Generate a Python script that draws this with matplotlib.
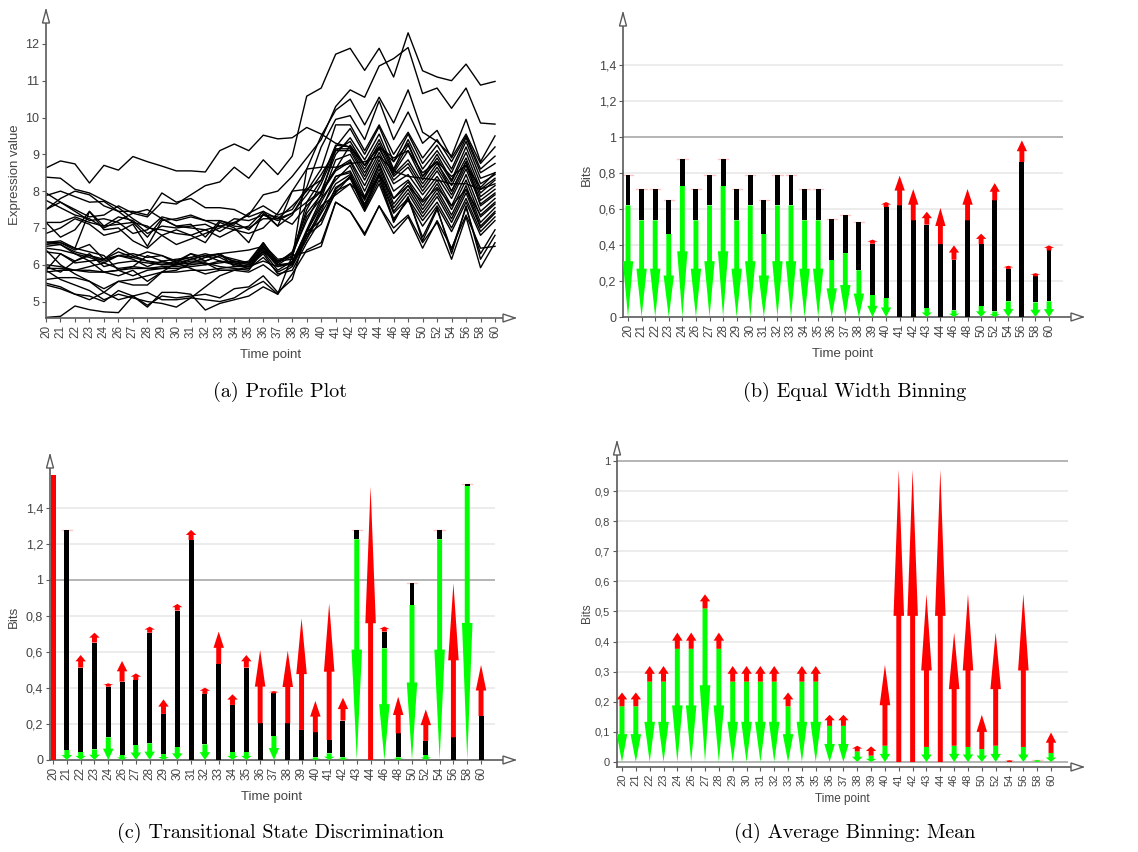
import numpy as np
import matplotlib.pyplot as plt
from matplotlib.patches import Polygon
from matplotlib.ticker import FuncFormatter

plt.rcParams['font.family'] = ['Liberation Sans', 'DejaVu Sans']

W, H = 1138, 852

times = [20, 21, 22, 23, 24, 26, 27, 28, 29, 30, 31, 32, 33, 34, 35, 36,
         37, 38, 39, 40, 41, 42, 43, 44, 46, 48, 50, 52, 54, 56, 58, 60]

# (a) expression profiles, one row per gene
profiles = [
    [8.63, 8.82, 8.74, 8.22, 8.70, 8.57, 8.94, 8.80, 8.68, 8.55, 8.55, 8.52, 9.10, 9.28, 9.10, 9.52, 9.42, 9.45, 9.73, 9.55, 9.30, 9.20, 8.70, 9.20, 8.90, 9.10, 8.50, 8.80, 8.40, 8.70, 8.10, 8.50],
    [7.50, 7.70, 7.50, 7.30, 7.35, 7.60, 7.40, 7.30, 7.70, 7.65, 7.90, 8.15, 8.25, 8.65, 8.35, 8.85, 8.45, 8.95, 10.58, 10.80, 11.72, 11.88, 11.28, 11.88, 11.10, 12.30, 11.27, 11.10, 11.00, 11.45, 10.88, 10.98],
    [8.38, 8.35, 8.05, 7.95, 7.75, 7.55, 7.25, 7.00, 6.95, 6.85, 6.80, 6.95, 7.05, 7.15, 7.35, 7.90, 8.00, 8.40, 8.90, 9.40, 10.30, 10.75, 10.55, 11.40, 11.60, 11.90, 10.65, 10.80, 10.25, 10.80, 9.85, 9.82],
    [7.95, 7.70, 7.45, 7.20, 7.25, 7.15, 6.85, 6.95, 7.30, 7.20, 7.30, 7.20, 7.05, 6.95, 6.85, 7.00, 7.40, 8.00, 8.60, 9.50, 10.20, 10.50, 9.80, 10.55, 9.85, 10.75, 9.60, 9.35, 8.95, 9.95, 8.80, 9.50],
    [7.88, 8.00, 7.85, 7.70, 7.72, 7.45, 7.15, 6.75, 7.25, 7.05, 7.10, 6.75, 7.20, 7.10, 7.40, 7.60, 7.35, 7.50, 8.10, 9.20, 9.95, 10.05, 9.40, 10.45, 9.40, 10.15, 9.30, 9.65, 8.90, 9.55, 8.75, 9.20],
    [7.75, 7.55, 7.35, 7.25, 7.00, 7.20, 7.40, 7.50, 7.25, 7.05, 7.00, 6.95, 6.75, 6.95, 7.05, 7.45, 7.25, 7.60, 8.00, 8.60, 9.80, 9.80, 9.10, 9.80, 9.00, 9.60, 8.90, 9.40, 8.80, 9.50, 8.60, 8.95],
    [7.15, 7.15, 7.30, 7.15, 7.05, 7.30, 7.20, 6.85, 7.05, 7.00, 7.05, 7.10, 6.90, 7.15, 6.95, 7.35, 7.20, 7.40, 7.70, 8.30, 9.20, 9.70, 9.00, 9.75, 8.80, 9.55, 8.75, 9.25, 8.60, 9.45, 8.50, 8.75],
    [7.15, 6.75, 6.95, 7.45, 7.05, 7.10, 7.15, 7.05, 6.80, 6.55, 6.70, 6.85, 7.00, 7.25, 7.20, 7.35, 7.30, 7.10, 7.60, 8.00, 9.00, 9.45, 8.85, 9.55, 8.60, 9.40, 8.60, 9.10, 8.50, 9.35, 8.35, 8.50],
    [6.85, 7.00, 7.25, 7.10, 6.80, 6.90, 7.10, 6.50, 7.20, 7.25, 7.35, 7.20, 7.20, 7.05, 7.00, 7.25, 7.25, 7.40, 7.90, 8.45, 9.10, 9.35, 8.70, 9.40, 8.55, 9.25, 8.40, 9.00, 8.30, 9.20, 8.20, 8.45],
    [6.62, 6.60, 6.45, 7.45, 6.95, 7.00, 6.65, 6.45, 6.80, 6.95, 6.80, 6.60, 7.15, 7.00, 6.60, 7.40, 7.05, 7.35, 8.05, 8.30, 9.25, 9.20, 8.60, 9.30, 8.50, 9.10, 8.30, 8.90, 8.25, 9.05, 8.05, 8.35],
    [6.60, 6.65, 6.45, 6.35, 6.25, 5.85, 5.70, 5.85, 5.90, 6.00, 6.15, 6.25, 6.30, 6.05, 6.05, 6.60, 6.05, 6.35, 7.40, 7.90, 9.15, 9.15, 8.50, 9.15, 8.45, 8.85, 8.20, 8.75, 8.15, 8.90, 7.95, 8.30],
    [6.55, 6.60, 6.40, 6.55, 6.15, 6.25, 6.30, 6.20, 6.25, 6.05, 6.30, 6.20, 6.30, 5.95, 6.00, 6.50, 6.10, 6.30, 7.50, 8.20, 9.10, 9.10, 8.40, 9.20, 8.40, 8.75, 8.10, 8.65, 8.00, 8.80, 7.85, 8.15],
    [6.50, 6.55, 6.35, 6.25, 6.15, 6.45, 6.25, 6.10, 6.05, 6.05, 6.15, 6.25, 6.10, 6.05, 5.95, 6.45, 6.00, 6.25, 7.30, 7.80, 8.85, 9.00, 8.30, 9.05, 8.30, 8.65, 8.00, 8.55, 7.90, 8.70, 7.75, 8.05],
    [6.45, 6.40, 6.30, 6.10, 6.15, 6.35, 6.20, 6.35, 6.25, 6.10, 6.30, 6.10, 6.25, 6.10, 6.00, 6.55, 6.15, 6.20, 7.70, 8.00, 8.60, 8.85, 8.15, 8.95, 8.20, 8.45, 7.90, 8.40, 7.80, 8.60, 7.65, 7.95],
    [6.35, 6.30, 6.10, 6.25, 6.10, 6.25, 6.15, 5.95, 6.10, 6.15, 6.20, 6.30, 6.20, 6.00, 6.10, 6.60, 6.05, 6.30, 7.20, 7.95, 8.55, 8.80, 8.00, 8.85, 8.00, 8.30, 7.75, 8.30, 7.60, 8.45, 7.45, 7.80],
    [6.00, 5.95, 5.85, 5.95, 6.05, 5.90, 5.95, 6.25, 6.10, 6.00, 6.05, 6.05, 5.95, 5.90, 5.85, 6.40, 5.95, 6.05, 6.95, 7.80, 8.30, 8.70, 7.85, 8.75, 7.80, 8.25, 7.60, 8.20, 7.50, 8.30, 7.30, 7.65],
    [5.95, 5.80, 6.10, 6.30, 5.95, 6.05, 6.10, 6.05, 6.00, 6.10, 6.20, 6.00, 6.10, 6.00, 5.95, 6.35, 5.85, 6.10, 6.90, 7.70, 8.40, 8.55, 7.80, 8.70, 7.65, 8.15, 7.50, 8.05, 7.35, 8.15, 7.15, 7.55],
    [5.90, 5.90, 5.85, 5.80, 5.80, 5.85, 5.95, 5.90, 5.95, 5.95, 6.00, 6.05, 5.85, 5.85, 5.90, 6.20, 5.80, 6.00, 6.70, 7.55, 8.20, 8.45, 7.75, 8.60, 7.55, 8.05, 7.40, 7.95, 7.25, 8.05, 7.05, 7.45],
    [5.85, 6.30, 6.05, 6.10, 5.80, 5.70, 5.85, 5.55, 5.80, 6.05, 5.90, 5.75, 5.85, 5.85, 5.80, 6.00, 5.70, 5.95, 6.70, 7.40, 8.05, 8.40, 7.65, 8.50, 7.45, 7.95, 7.30, 7.85, 7.15, 7.95, 7.00, 7.40],
    [5.60, 5.65, 5.65, 5.55, 5.35, 5.55, 5.60, 5.70, 5.80, 5.80, 5.85, 5.85, 5.90, 5.95, 5.95, 6.30, 5.75, 5.85, 6.60, 7.25, 7.95, 8.40, 7.55, 8.40, 7.40, 7.80, 7.20, 7.70, 7.00, 7.80, 6.90, 7.30],
    [5.50, 5.40, 5.20, 5.15, 5.00, 5.30, 5.15, 4.90, 5.15, 5.10, 5.15, 5.20, 5.10, 5.35, 5.40, 5.70, 5.25, 5.60, 6.90, 7.20, 8.10, 8.35, 7.50, 8.30, 7.25, 7.75, 7.05, 7.60, 6.90, 7.70, 6.80, 7.20],
    [5.45, 5.35, 5.20, 5.05, 5.25, 5.05, 5.15, 5.25, 5.05, 5.05, 5.10, 5.05, 5.00, 5.10, 5.35, 5.55, 5.20, 5.75, 6.40, 6.60, 7.70, 7.45, 6.80, 7.60, 6.85, 7.30, 6.45, 7.20, 6.45, 7.35, 6.45, 6.50],
    [4.57, 4.60, 4.88, 4.78, 4.72, 4.70, 5.15, 4.85, 5.25, 5.25, 5.20, 4.77, 4.95, 5.05, 5.15, 5.40, 5.20, 6.25, 6.35, 6.50, 7.70, 7.45, 6.85, 7.60, 7.00, 7.35, 6.60, 7.15, 6.15, 7.30, 5.92, 6.60],
    [5.85, 5.60, 5.45, 5.30, 5.05, 5.20, 5.10, 5.00, 4.95, 4.85, 5.10, 5.40, 5.70, 5.85, 5.95, 6.10, 5.95, 6.05, 6.80, 7.45, 8.40, 8.50, 7.60, 8.45, 7.15, 7.85, 6.65, 7.50, 6.40, 7.55, 6.30, 6.95],
    [6.40, 6.00, 5.75, 5.55, 5.25, 5.55, 5.45, 5.45, 5.80, 5.85, 6.05, 6.20, 6.30, 6.35, 6.40, 6.50, 6.00, 6.00, 6.80, 7.10, 8.00, 8.20, 7.45, 8.20, 7.20, 7.80, 6.75, 7.55, 6.30, 7.60, 6.15, 6.80],
    [6.60, 6.55, 6.30, 6.20, 6.05, 6.25, 6.20, 6.10, 6.00, 6.00, 6.10, 6.10, 6.25, 6.15, 6.05, 6.35, 6.10, 6.15, 8.60, 8.65, 8.65, 8.75, 8.80, 8.95, 8.55, 8.40, 8.35, 8.30, 8.20, 8.20, 8.05, 8.20],
    [5.80, 5.85, 5.85, 5.85, 5.80, 5.85, 5.90, 5.90, 5.90, 5.90, 5.95, 6.00, 6.05, 6.10, 6.05, 6.45, 6.00, 6.05, 6.90, 7.60, 7.90, 8.20, 7.80, 8.45, 7.80, 8.15, 7.70, 8.10, 7.60, 8.05, 7.35, 7.70],
    [7.50, 7.80, 8.00, 7.90, 7.60, 7.45, 7.45, 7.35, 7.95, 7.70, 7.80, 7.55, 7.55, 7.50, 7.30, 7.45, 7.05, 8.00, 8.05, 7.95, 8.60, 9.25, 8.70, 9.20, 8.80, 9.30, 8.40, 8.80, 8.00, 8.80, 7.60, 7.90],
]

# (b) equal width binning: green (down), black, red (up) parts in bits
b_green = [0.62, 0.537, 0.537, 0.461, 0.73, 0.537, 0.62, 0.73, 0.537, 0.62, 0.461, 0.62, 0.62, 0.537, 0.537, 0.318,
           0.355, 0.26, 0.124, 0.106, 0.0, 0.0, 0.05, 0.0, 0.037, 0.0, 0.063, 0.031, 0.087, 0.0, 0.081, 0.087]
b_black = [0.167, 0.176, 0.176, 0.191, 0.148, 0.176, 0.167, 0.148, 0.176, 0.167, 0.191, 0.167, 0.167, 0.176, 0.176, 0.226,
           0.214, 0.266, 0.283, 0.505, 0.62, 0.537, 0.463, 0.405, 0.281, 0.537, 0.342, 0.617, 0.18, 0.861, 0.145, 0.283]
b_red = [0.0, 0.0, 0.0, 0.0, 0.0, 0.0, 0.0, 0.0, 0.0, 0.0, 0.0, 0.0, 0.0, 0.0, 0.0, 0.0,
         0.0, 0.0, 0.023, 0.028, 0.165, 0.174, 0.072, 0.201, 0.08, 0.174, 0.058, 0.096, 0.018, 0.12, 0.018, 0.028]

# (c) transitional state discrimination
c_green = [0.0, 0.056, 0.046, 0.059, 0.126, 0.028, 0.083, 0.093, 0.033, 0.074, 0.0, 0.087, 0.0, 0.046, 0.046, 0.0,
           0.133, 0.0, 0.0, 0.015, 0.037, 0.015, 1.226, 0.0, 0.62, 0.015, 0.861, 0.028, 1.226, 0.0, 1.522, 0.0]
c_black = [0.0, 1.222, 0.467, 0.593, 0.281, 0.407, 0.361, 0.614, 0.223, 0.756, 1.222, 0.28, 0.533, 0.26, 0.467, 0.204,
           0.237, 0.204, 0.167, 0.139, 0.074, 0.204, 0.052, 0.0, 0.093, 0.133, 0.124, 0.078, 0.052, 0.126, 0.009, 0.244]
c_red = [1.583, 0.0, 0.07, 0.055, 0.019, 0.115, 0.037, 0.034, 0.081, 0.037, 0.056, 0.035, 0.18, 0.059, 0.07, 0.407,
         0.013, 0.403, 0.62, 0.174, 0.759, 0.127, 0.0, 1.519, 0.028, 0.204, 0.0, 0.175, 0.0, 0.855, 0.0, 0.284]
c_plain = [20]

# (d) average binning: mean
d_green = [0.185, 0.185, 0.267, 0.267, 0.376, 0.376, 0.51, 0.376, 0.267, 0.267, 0.267, 0.267, 0.185, 0.267, 0.267, 0.12,
           0.12, 0.035, 0.021, 0.054, 0.0, 0.0, 0.05, 0.0, 0.054, 0.05, 0.043, 0.054, 0.0, 0.05, 0.006, 0.03]
d_black = [0.0] * 32
d_red = [0.046, 0.046, 0.052, 0.052, 0.054, 0.054, 0.047, 0.054, 0.052, 0.052, 0.052, 0.052, 0.046, 0.052, 0.052, 0.037,
         0.037, 0.019, 0.031, 0.269, 0.971, 0.971, 0.508, 0.971, 0.376, 0.508, 0.114, 0.376, 0.006, 0.508, 0.0, 0.068]

AX = '#5a5a5a'
TXT = '#444444'
SW, HW = 0.36, 0.76

fig = plt.figure(figsize=(W / 100, H / 100), dpi=100)


def px_axes(l, t, r, b):
    return fig.add_axes([l / W, 1 - b / H, (r - l) / W, (b - t) / H])


def comma(v, pos):
    return ('%g' % round(v, 3)).replace('.', ',')


def style(ax):
    for s in ['top', 'right']:
        ax.spines[s].set_visible(False)
    for s in ['left', 'bottom']:
        ax.spines[s].set_color(AX)
        ax.spines[s].set_linewidth(1.2)
    ax.set_xticks(range(len(times)))
    ax.set_xticklabels([str(t) for t in times])
    ax.tick_params(axis='x', length=3, width=0.8, color=AX, labelcolor=TXT,
                   labelsize=8.5, labelrotation=90, pad=2)
    ax.tick_params(axis='y', length=3, width=0.8, color=AX, labelcolor=TXT,
                   labelsize=9, pad=2)
    ax.yaxis.set_major_formatter(FuncFormatter(comma))
    # open arrow heads at the axis ends
    bb = ax.get_position()
    aw, ah = bb.width * W, bb.height * H
    top = Polygon([(-3.5 / aw, 1 - 13 / ah), (3.5 / aw, 1 - 13 / ah), (0, 1)], closed=True,
                  transform=ax.transAxes, fc='white', ec=AX, lw=1, clip_on=False, zorder=10)
    right = Polygon([(1 - 12 / aw, -4 / ah), (1 - 12 / aw, 4 / ah), (1, 0)], closed=True,
                    transform=ax.transAxes, fc='white', ec=AX, lw=1, clip_on=False, zorder=10)
    ax.add_patch(top)
    ax.add_patch(right)


def arrow(ax, x, y0, y1, color):
    yh = y1 - (y1 - y0) / 2
    verts = [(x - SW / 2, y0), (x + SW / 2, y0), (x + SW / 2, yh), (x + HW / 2, yh),
             (x, y1), (x - HW / 2, yh), (x - SW / 2, yh)]
    ax.add_patch(Polygon(verts, closed=True, fc=color, ec='none', zorder=3))


def bits(ax, green, black, red, plain=()):
    for i, (g, k, r) in enumerate(zip(green, black, red)):
        if g > 0:
            arrow(ax, i, g, 0, '#00ff00')
        if k > 0:
            ax.bar(i, k, bottom=g, width=SW, color='black', zorder=3)
        if r > 0:
            if times[i] in plain:
                ax.bar(i, r, bottom=g + k, width=SW, color='#ff0000', zorder=3)
            else:
                arrow(ax, i, g + k, g + k + r, '#ff0000')
        elif g + k > 0:
            ax.plot([i - HW / 2, i + HW / 2], [g + k] * 2, color='#ffc4c4', lw=1, zorder=2)


def grid(ax, vals, xmax, dark):
    ax.hlines(vals, ax.get_xlim()[0], xmax, color='#ececec', lw=1.4, zorder=0)
    ax.hlines(dark, ax.get_xlim()[0], xmax, color='#a8a8a8', lw=1.2, zorder=1)


# (a) profile plot
ax = px_axes(46, 10, 515, 318)
for p in profiles:
    ax.plot(range(len(times)), p, color='black', lw=1.0)
ax.set_xlim(0, 32.38)
ax.set_ylim(4.554, 12.92)
ax.set_yticks(range(5, 13))
style(ax)
fig.text(271 / W, 1 - 355 / H, 'Time point', ha='center', va='center', color=TXT, fontsize=9.5)
fig.text(15 / W, 1 - 175 / H, 'Expression value', ha='center', va='center', rotation=90,
         color=TXT, fontsize=9.5)

# (b) equal width binning
ax = px_axes(623, 13, 1083, 317)
ax.set_xlim(-0.37, 33.5)
ax.set_ylim(0, 1.689)
grid(ax, [0.2, 0.4, 0.6, 0.8, 1.2, 1.4], 32.03, [1])
bits(ax, b_green, b_black, b_red)
ax.set_yticks([0, 0.2, 0.4, 0.6, 0.8, 1, 1.2, 1.4])
style(ax)
fig.text(843 / W, 1 - 354 / H, 'Time point', ha='center', va='center', color=TXT, fontsize=9.5)
fig.text(587 / W, 1 - 175 / H, 'Bits', ha='center', va='center', rotation=90, color=TXT, fontsize=9.5)

# (c) transitional state discrimination
ax = px_axes(50, 455, 515, 760)
ax.set_xlim(-0.22, 33.46)
ax.set_ylim(0, 1.694)
grid(ax, [0.2, 0.4, 0.6, 0.8, 1.2, 1.4], 32.0, [1])
bits(ax, c_green, c_black, c_red, c_plain)
ax.set_yticks([0, 0.2, 0.4, 0.6, 0.8, 1, 1.2, 1.4])
style(ax)
fig.text(272 / W, 1 - 797 / H, 'Time point', ha='center', va='center', color=TXT, fontsize=9.5)
fig.text(14 / W, 1 - 617 / H, 'Bits', ha='center', va='center', rotation=90, color=TXT, fontsize=9.5)

# (d) average binning: mean
ax = px_axes(617, 442, 1083, 767)
ax.set_xlim(-0.36, 33.31)
ax.set_ylim(-0.0166, 1.063)
grid(ax, [0.1, 0.2, 0.3, 0.4, 0.5, 0.6, 0.7, 0.8, 0.9], 32.2, [0, 1])
bits(ax, d_green, d_black, d_red)
ax.set_yticks([0, 0.1, 0.2, 0.3, 0.4, 0.5, 0.6, 0.7, 0.8, 0.9, 1])
style(ax)
ax.tick_params(axis='both', labelsize=8)
fig.text(842 / W, 1 - 799 / H, 'Time point', ha='center', va='center', color=TXT, fontsize=8.5)
fig.text(587 / W, 1 - 613 / H, 'Bits', ha='center', va='center', rotation=90, color=TXT, fontsize=8.5)

# captions
caps = [('(a) Profile Plot', 280, 392), ('(b) Equal Width Binning', 855, 392),
        ('(c) Transitional State Discrimination', 280, 833), ('(d) Average Binning: Mean', 855, 833)]
for s, x, y in caps:
    fig.text(x / W, 1 - y / H, s, ha='center', va='center', fontsize=14.5, family='cmr10')

fig.savefig('out.png', dpi=100)
